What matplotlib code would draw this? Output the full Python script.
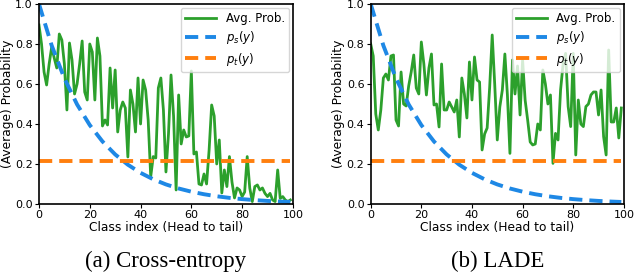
import matplotlib
matplotlib.use("Agg")
import matplotlib.pyplot as plt

classes = list(range(100))

avg_prob_ce = [0.895, 0.80, 0.66, 0.595, 0.70, 0.785, 0.73, 0.68, 0.85, 0.82,
               0.70, 0.47, 0.805, 0.72, 0.55, 0.60, 0.70, 0.815, 0.56, 0.52,
               0.80, 0.76, 0.52, 0.83, 0.74, 0.39, 0.42, 0.395, 0.68, 0.48,
               0.67, 0.36, 0.47, 0.51, 0.48, 0.235, 0.57, 0.50, 0.36, 0.63,
               0.40, 0.62, 0.57, 0.42, 0.137, 0.237, 0.23, 0.58, 0.63, 0.47,
               0.16, 0.35, 0.645, 0.44, 0.07, 0.545, 0.30, 0.37, 0.335, 0.34,
               0.665, 0.25, 0.26, 0.10, 0.095, 0.15, 0.10, 0.27, 0.495, 0.44,
               0.20, 0.32, 0.055, 0.17, 0.087, 0.237, 0.11, 0.03, 0.08, 0.07,
               0.037, 0.06, 0.237, 0.08, 0.012, 0.087, 0.095, 0.07, 0.08, 0.053,
               0.037, 0.053, 0.02, 0.012, 0.17, 0.028, 0.037, 0.02, 0.012, 0.02]

avg_prob_lade = [0.80, 0.74, 0.45, 0.37, 0.47, 0.63, 0.65, 0.62, 0.74, 0.745,
                 0.42, 0.39, 0.66, 0.50, 0.49, 0.59, 0.66, 0.745, 0.58, 0.55,
                 0.81, 0.70, 0.545, 0.68, 0.75, 0.495, 0.50, 0.385, 0.70, 0.47,
                 0.47, 0.51, 0.485, 0.46, 0.52, 0.335, 0.63, 0.55, 0.43, 0.71,
                 0.52, 0.735, 0.62, 0.61, 0.27, 0.35, 0.38, 0.585, 0.845, 0.595,
                 0.32, 0.485, 0.57, 0.75, 0.545, 0.253, 0.72, 0.55, 0.69, 0.445,
                 0.72, 0.52, 0.42, 0.31, 0.295, 0.30, 0.40, 0.37, 0.67, 0.60,
                 0.50, 0.545, 0.203, 0.353, 0.32, 0.57, 0.70, 0.753, 0.487, 0.387,
                 0.753, 0.245, 0.52, 0.40, 0.387, 0.487, 0.50, 0.545, 0.56, 0.56,
                 0.445, 0.57, 0.337, 0.245, 0.77, 0.41, 0.41, 0.48, 0.33, 0.48]

ps_classes = [0, 5, 10, 15, 20, 25, 30, 35, 40, 45, 50, 55, 60, 65, 70, 75, 80, 85, 90, 95, 99]
ps_values = [1.0, 0.7925, 0.6280, 0.4977, 0.3945, 0.3126, 0.2477, 0.1963, 0.1556, 0.1233,
             0.0977, 0.0774, 0.0614, 0.0486, 0.0385, 0.0305, 0.0242, 0.0192, 0.0152, 0.0120, 0.0100]

pt_value = 0.217

titles = ["(a) Cross-entropy", "(b) LADE"]
series = [avg_prob_ce, avg_prob_lade]

fig = plt.figure(figsize=(6.34, 2.76), dpi=100)
positions = [[0.0615, 0.261, 0.4005, 0.7245], [0.5847, 0.261, 0.3993, 0.7245]]

for pos, data, title in zip(positions, series, titles):
    ax = fig.add_axes(pos)
    ax.plot(classes, data, color="#2ca02c", lw=2.0, label="Avg. Prob.")
    ax.plot(ps_classes, ps_values, color="#1e88e5", lw=2.8, ls=(0, (3.4, 1.8)), label=r"$p_s(y)$")
    ax.plot([classes[0], classes[-1]], [pt_value, pt_value], color="#ff7f0e", lw=2.8,
            ls=(0, (3.4, 1.8)), label=r"$p_t(y)$")
    ax.set_xlim(0, 100)
    ax.set_ylim(0, 1.0)
    ax.set_xticks([0, 20, 40, 60, 80, 100])
    ax.set_yticks([0.0, 0.2, 0.4, 0.6, 0.8, 1.0])
    ax.tick_params(labelsize=8, length=3, pad=1.5)
    ax.set_xlabel("Class index (Head to tail)", fontsize=8.8, labelpad=0.5)
    ax.set_ylabel("(Average) Probability", fontsize=8.8, labelpad=1)
    for s in ax.spines.values():
        s.set_linewidth(1.2)
    ax.legend(loc="upper right", fontsize=8.5, handlelength=2.6, borderpad=0.4,
              labelspacing=0.35, framealpha=0.8, borderaxespad=0.3)
    cx = pos[0] + pos[2] / 2
    fig.text(cx, 0.053, title, ha="center", va="center", fontsize=16.5,
             family="Liberation Serif")

fig.savefig("out.png", dpi=100)
